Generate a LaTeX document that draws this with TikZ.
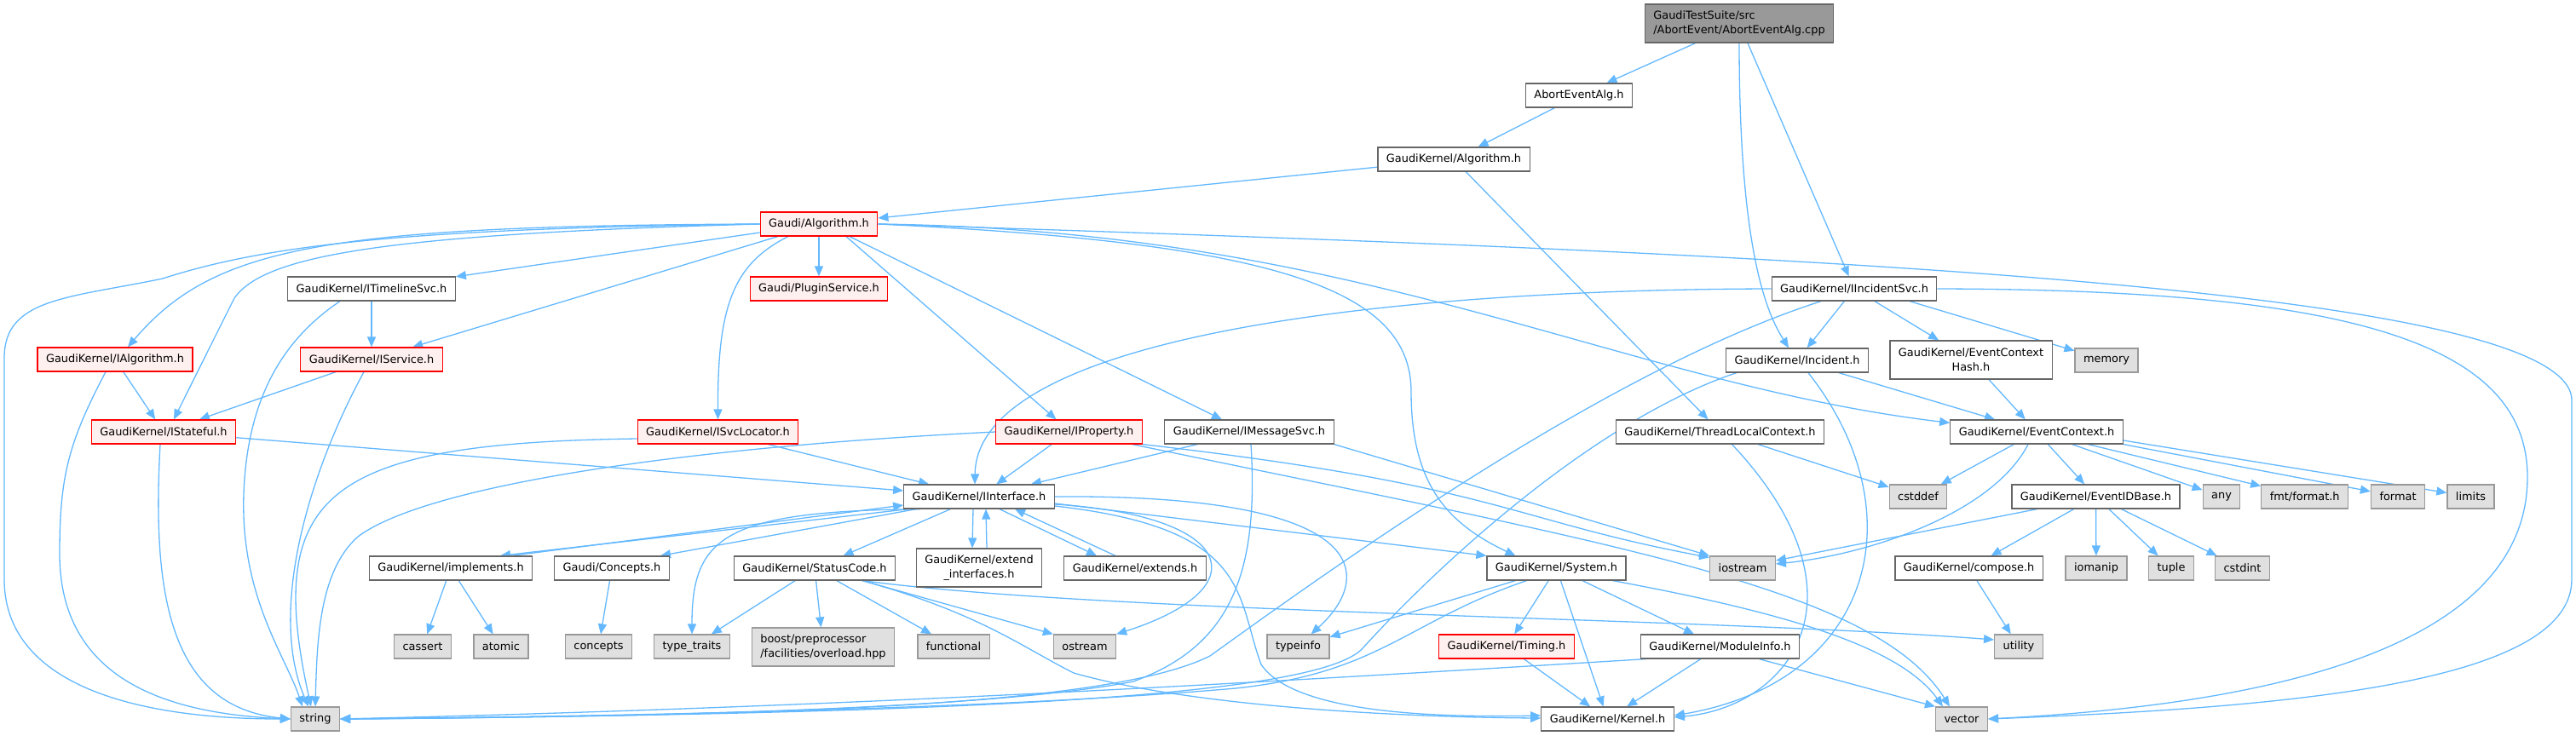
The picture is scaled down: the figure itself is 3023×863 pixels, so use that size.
\documentclass[tikz,border=0pt]{standalone}
\usepackage{fontspec}
\newfontfamily\gfont{DejaVu Sans}
\usepackage{tikz}
\usetikzlibrary{arrows.meta,backgrounds}
\definecolor{edgeblue}{HTML}{63B8FF}
\definecolor{boxgray}{HTML}{666666}
\definecolor{sysfill}{HTML}{E0E0E0}
\definecolor{sysline}{HTML}{999999}
\definecolor{truncfill}{HTML}{FFF0F0}

\begin{document}
\begin{tikzpicture}[x=1pt,y=-1pt,font=\gfont\fontsize{12.9pt}{17pt}\selectfont,
  hdr/.style={draw=boxgray,fill=white,line width=1.2pt,inner xsep=10pt,inner ysep=0pt,minimum height=28pt,align=center},
  two/.style={minimum height=45pt},
  trunc/.style={hdr,draw=red,fill=truncfill},
  sys/.style={hdr,draw=sysline,fill=sysfill},
  cur/.style={hdr,draw=boxgray,fill=sysline},
  arr/.style={-{Triangle[length=12pt,width=10pt]},draw=edgeblue,line width=1.3pt}]
  \useasboundingbox (0,0) rectangle (3023,863);

  \node[cur,two,align=left] (main) at (2041,27.5) {GaudiTestSuite/src\\/AbortEvent/AbortEventAlg.cpp};
  \node[hdr] (aeh) at (1853,112) {AbortEventAlg.h};
  \node[hdr] (gkalg) at (1706,187) {GaudiKernel/Algorithm.h};
  \node[trunc] (galg) at (961,263) {Gaudi/Algorithm.h};
  \node[hdr] (timeline) at (436,339) {GaudiKernel/ITimelineSvc.h};
  \node[trunc] (plugin) at (961,339) {Gaudi/PluginService.h};
  \node[hdr] (incsvc) at (2176,339) {GaudiKernel/IIncidentSvc.h};
  \node[trunc] (ialg) at (135,422) {GaudiKernel/IAlgorithm.h};
  \node[trunc] (isvc) at (436,422) {GaudiKernel/IService.h};
  \node[hdr] (incident) at (2109,423) {GaudiKernel/Incident.h};
  \node[hdr,two] (ech) at (2313,422.5) {GaudiKernel/EventContext\\Hash.h};
  \node[sys] (memory) at (2472,423) {memory};
  \node[trunc] (istate) at (192,507) {GaudiKernel/IStateful.h};
  \node[trunc] (isvcloc) at (842.5,507) {GaudiKernel/ISvcLocator.h};
  \node[trunc] (iprop) at (1254.5,507) {GaudiKernel/IProperty.h};
  \node[hdr] (imsg) at (1466,507) {GaudiKernel/IMessageSvc.h};
  \node[hdr] (tlc) at (2018.5,507) {GaudiKernel/ThreadLocalContext.h};
  \node[hdr] (evctx) at (2390,507) {GaudiKernel/EventContext.h};
  \node[hdr] (iif) at (1149,583) {GaudiKernel/IInterface.h};
  \node[sys] (cstddef) at (2251,583) {cstddef};
  \node[hdr] (evid) at (2459.5,583) {GaudiKernel/EventIDBase.h};
  \node[sys] (any) at (2607,583) {any};
  \node[sys] (fmt) at (2704.7,583) {fmt/format.h};
  \node[sys] (format) at (2814,583) {format};
  \node[sys] (limits) at (2899.5,583) {limits};
  \node[hdr] (impl) at (529,667) {GaudiKernel/implements.h};
  \node[hdr] (concepth) at (718,667) {Gaudi/Concepts.h};
  \node[hdr] (sc) at (956,667) {GaudiKernel/StatusCode.h};
  \node[hdr,two] (extif) at (1149,666.5) {GaudiKernel/extend\\\_interfaces.h};
  \node[hdr] (extends) at (1332,667) {GaudiKernel/extends.h};
  \node[hdr] (system) at (1826.5,667) {GaudiKernel/System.h};
  \node[sys] (iostream) at (2045,667) {iostream};
  \node[hdr] (compose) at (2310.6,667) {GaudiKernel/compose.h};
  \node[sys] (iomanip) at (2460,667) {iomanip};
  \node[sys] (tuple) at (2548,667) {tuple};
  \node[sys] (cstdint) at (2631.5,667) {cstdint};
  \node[sys] (cassert) at (496,759) {cassert};
  \node[sys] (atomic) at (588,759) {atomic};
  \node[sys] (concepts) at (702.5,759) {concepts};
  \node[sys] (typetraits) at (812,759) {type\_traits};
  \node[sys,two,align=left] (boost) at (966,759.5) {boost/preprocessor\\/facilities/overload.hpp};
  \node[sys] (functional) at (1119,759) {functional};
  \node[sys] (ostream) at (1273,759) {ostream};
  \node[sys] (typeinfo) at (1523.5,759) {typeinfo};
  \node[trunc] (timing) at (1768,759) {GaudiKernel/Timing.h};
  \node[hdr] (modinfo) at (2018.5,759) {GaudiKernel/ModuleInfo.h};
  \node[sys] (utility) at (2369,759) {utility};
  \node[sys] (string) at (370,844) {string};
  \node[hdr] (kernel) at (1886.5,844) {GaudiKernel/Kernel.h};
  \node[sys] (vector) at (2302,844) {vector};

  \begin{scope}[on background layer]
  \draw[arr] (main) -- (aeh);
  \draw[arr] (main) -- (incsvc);
  \draw[arr] (main.south) .. controls (2041,300) and (2075,370) .. ([xshift=-10]incident.north);
  \draw[arr] (aeh) -- (gkalg);
  \draw[arr] (gkalg) -- (galg);
  \draw[arr] (gkalg) -- ([xshift=-14]tlc.north);

  \draw[arr] (galg.west) .. controls (500,268) and (320,285) .. (191,327) .. controls (80,350) and (5,350) .. (5,420) -- (5,680) .. controls (5,800) and (150,844) .. (string.west);
  \draw[arr] (galg.west) .. controls (380,265) and (250,290) .. ([xshift=15]ialg.north);
  \draw[arr] (galg.west) .. controls (450,275) and (310,300) .. (275,350) .. controls (255,390) and (225,450) .. ([xshift=12]istate.north);
  \draw[arr] (galg) -- (timeline);
  \draw[arr] (galg) -- (isvc);
  \draw[arr] ([xshift=-36]galg.south) .. controls (860,310) and (842,360) .. (isvcloc.north);
  \draw[arr] (galg) -- (plugin);
  \draw[arr] ([xshift=32]galg.south) -- ([xshift=-15]iprop.north);
  \draw[arr] ([xshift=36]galg.south) -- ([xshift=-32]imsg.north);
  \draw[arr] (galg.east) .. controls (1500,285) and (1656,340) .. (1656,460) .. controls (1656,570) and (1700,615) .. ([xshift=-48]system.north);
  \draw[arr] (galg.east) .. controls (1600,270) and (1900,450) .. ([yshift=-4pt]evctx.north west);
  \draw[arr] (galg.east) .. controls (2000,295) and (3018,330) .. (3018,470) -- (3018,680) .. controls (3018,800) and (2700,830) .. (vector.east);

  \draw[arr] (timeline) -- (isvc);
  \draw[arr] ([xshift=-37]timeline.south) .. controls (330,400) and (290,470) .. (286,580) .. controls (282,700) and (335,770) .. ([xshift=-15]string.north);
  \draw[arr] (ialg) -- (istate);
  \draw[arr] ([xshift=-11]ialg.south) .. controls (80,520) and (70,560) .. (70,650) .. controls (70,800) and (200,838) .. (string.west);
  \draw[arr] (isvc) -- (istate);
  \draw[arr] ([xshift=-9]isvc.south) .. controls (360,560) and (315,720) .. ([xshift=-8]string.north);
  \draw[arr] (istate) -- (iif);
  \draw[arr] ([xshift=-4]istate.south) .. controls (178,700) and (200,830) .. (string.west);
  \draw[arr] (isvcloc) -- (iif);
  \draw[arr] ([yshift=-8pt]isvcloc.west) .. controls (380,520) and (310,580) .. ([xshift=-5]string.north);

  \draw[arr] (iprop) -- (iif);
  \draw[arr] (iprop.west) .. controls (800,525) and (500,570) .. (420,630) .. controls (375,670) and (372,750) .. (string.north);
  \draw[arr] (iprop.south east) .. controls (1760,570) and (1770,610) .. ([yshift=-2pt]iostream.north west);
  \draw[arr] ([xshift=-12]iprop.south east) .. controls (1900,640) and (2200,690) .. ([xshift=-14]vector.north);
  \draw[arr] (imsg) -- (iif);
  \draw[arr] (imsg.south east) -- (iostream.north west);
  \draw[arr] ([xshift=2]imsg.south) .. controls (1478,680) and (1440,760) .. (1330,800) .. controls (1150,835) and (700,842) .. (string.east);

  \draw[arr] (incsvc) -- (incident);
  \draw[arr] (incsvc) -- (ech);
  \draw[arr] ([xshift=65]incsvc.south) -- (memory);
  \draw[arr] (incsvc.west) .. controls (1600,340) and (1146,400) .. ([xshift=-5]iif.north);
  \draw[arr] ([xshift=-39]incsvc.south) .. controls (1900,430) and (1600,640) .. (1420,770) .. controls (1300,830) and (900,840) .. (string.east);
  \draw[arr] (incsvc.east) .. controls (2750,340) and (2966,400) .. (2966,560) .. controls (2966,780) and (2600,830) .. (vector.east);
  \draw[arr] (incident) -- (evctx);
  \draw[arr] ([xshift=-71]incident.south) .. controls (1880,490) and (1700,650) .. (1600,760) .. controls (1550,820) and (1100,838) .. (string.east);
  \draw[arr] ([xshift=13]incident.south) .. controls (2250,600) and (2200,800) .. ([yshift=4pt]kernel.east);
  \draw[arr] (ech) -- (evctx);
  \draw[arr] (tlc) -- (cstddef);
  \draw[arr] ([xshift=14]tlc.south) .. controls (2200,700) and (2100,830) .. ([yshift=2pt]kernel.east);

  \draw[arr] (evctx) -- (cstddef);
  \draw[arr] ([xshift=-10]evctx.south) .. controls (2340,600) and (2200,650) .. ([yshift=5pt]iostream.east);
  \draw[arr] (evctx) -- (evid);
  \draw[arr] (evctx) -- (any);
  \draw[arr] (evctx) -- (fmt);
  \draw[arr] (evctx.south east) -- (format);
  \draw[arr] ([yshift=-10pt]evctx.east) -- (limits);
  \draw[arr] ([xshift=-69]evid.south) -- ([yshift=9pt]iostream.east);
  \draw[arr] (evid) -- (compose);
  \draw[arr] (evid) -- (iomanip);
  \draw[arr] (evid) -- (tuple);
  \draw[arr] (evid) -- (cstdint);
  \draw[arr] (compose) -- (utility);

  \draw[arr] ([xshift=6]iif.south west) -- ([xshift=58]impl.north);
  \draw[arr] ([xshift=71]impl.north) -- ([yshift=-10pt]iif.west);
  \draw[arr] ([xshift=15]iif.south west) -- ([xshift=57]concepth.north);
  \draw[arr] ([xshift=20]iif.south west) .. controls (850,600) and (812,630) .. (typetraits.north);
  \draw[arr] (iif) -- (sc);
  \draw[arr] ([xshift=-7]iif.south) -- ([xshift=-8]extif.north);
  \draw[arr] ([xshift=9]extif.north) -- ([xshift=8]iif.south);
  \draw[arr] ([xshift=24]iif.south) -- ([xshift=-45]extends.north);
  \draw[arr] ([xshift=-23]extends.north) -- ([xshift=42]iif.south);
  \draw[arr] ([yshift=-8pt]iif.east) -- (system.north west);
  \draw[arr] (iif.east) .. controls (1620,580) and (1610,680) .. ([xshift=15]typeinfo.north);
  \draw[arr] ([yshift=-9pt]iif.east) .. controls (1450,605) and (1480,690) .. (ostream.north east);
  \draw[arr] ([yshift=-11pt]iif.east) .. controls (1470,620) and (1450,700) .. (1480,780) .. controls (1520,840) and (1700,842) .. ([yshift=4pt]kernel.west);

  \draw[arr] (impl) -- (cassert);
  \draw[arr] (impl) -- (atomic);
  \draw[arr] (concepth) -- (concepts);
  \draw[arr] (sc) -- (typetraits);
  \draw[arr] (sc) -- (boost);
  \draw[arr] (sc) -- (functional);
  \draw[arr] ([xshift=56]sc.south) -- (ostream.north west);
  \draw[arr] ([xshift=56]sc.south) .. controls (1150,720) and (1200,760) .. (1260,790) .. controls (1400,830) and (1650,842) .. ([yshift=1pt]kernel.west);
  \draw[arr] ([xshift=56]sc.south) .. controls (1300,720) and (2000,725) .. ([yshift=8pt]utility.west);

  \draw[arr] (system) -- (typeinfo);
  \draw[arr] ([xshift=-35]system.south) .. controls (1650,730) and (1620,790) .. (1450,808) .. controls (1200,830) and (800,840) .. (string.east);
  \draw[arr] (system) -- (timing);
  \draw[arr] (system) -- (kernel);
  \draw[arr] (system) -- (modinfo);
  \draw[arr] ([xshift=66]system.south) .. controls (2100,720) and (2230,760) .. ([xshift=-22]vector.north);
  \draw[arr] (timing) -- (kernel);
  \draw[arr] (modinfo) -- (kernel);
  \draw[arr] ([xshift=46]modinfo.south) -- (vector.north west);
  \draw[arr] ([xshift=-87]modinfo.south) .. controls (1500,800) and (1000,830) .. (string.east);
  \end{scope}
\end{tikzpicture}
\end{document}
